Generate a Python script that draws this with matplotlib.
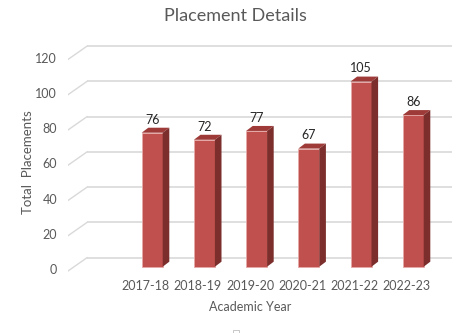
import matplotlib
matplotlib.use("Agg")
import matplotlib.pyplot as plt
from matplotlib.patches import Polygon, Rectangle

years = ["2017-18", "2018-19", "2019-20", "2020-21", "2021-22", "2022-23"]
placements = [76, 72, 77, 67, 105, 86]
yticks = [0, 20, 40, 60, 80, 100, 120]

W, H = 469, 333
fig = plt.figure(figsize=(W / 100, H / 100), dpi=100)
plt.rcParams['font.family'] = ['Lato', 'DejaVu Sans']

# pixel geometry -> axes
px_per_cat = 52.2
x0_px = 152.2            # center of first bar front face
px_per_unit = 1.763
y0_px = 266.7            # front-face zero (from top)
left_px, right_px = 68, 452
top_px, bot_px = 40, 275
ax = fig.add_axes([left_px / W, (H - bot_px) / H, (right_px - left_px) / W, (bot_px - top_px) / H])
ax.set_xlim((left_px - x0_px) / px_per_cat, (right_px - x0_px) / px_per_cat)
ax.set_ylim((y0_px - bot_px) / px_per_unit, (y0_px - top_px) / px_per_unit)
ax.axis('off')

back_off = 9 / px_per_unit          # back wall offset (value units)
front_off = -4.3 / px_per_unit      # floor front edge
xback = (87 - x0_px) / px_per_cat
xfront = (68 - x0_px) / px_per_cat
xright = (452 - x0_px) / px_per_cat
grid_c = '#d9d9d9'
for v in yticks:
    ax.plot([xback, xright], [v + back_off, v + back_off], color=grid_c, lw=1.2, solid_capstyle='butt', zorder=1)
    ax.plot([xfront, xback], [v + front_off, v + back_off], color=grid_c, lw=1.0, zorder=1)
    ax.text((57 - x0_px) / px_per_cat, v - 2.0, str(v), ha='right', va='center',
            fontsize=9, color='#595959', clip_on=False)

bw = 21 / px_per_cat
dx = 6.6 / px_per_cat
dy = 5.0 / px_per_unit
front_c, top_c, side_c = '#C0504D', '#9E3B38', '#7B2E2C'
xs = list(range(len(years)))
ax.bar(xs, placements, width=bw, color=front_c, edgecolor='#E6A9A7', linewidth=0.6, zorder=3)
for x, v in zip(xs, placements):
    l, r = x - bw / 2, x + bw / 2
    ax.add_patch(Polygon([(l, v), (r, v), (r + dx, v + dy), (l + dx, v + dy)], closed=True,
                         facecolor=top_c, edgecolor='none', zorder=4))
    ax.add_patch(Polygon([(r, 0), (r + dx, dy), (r + dx, v + dy), (r, v)], closed=True,
                         facecolor=side_c, edgecolor='none', zorder=4))
    ax.text(x, v + dy + 1.2, str(v), ha='center', va='bottom', fontsize=9, color='#262626', zorder=5)
    ax.text(x - 6.5 / px_per_cat, (y0_px - 286) / px_per_unit, years[x], ha='center', va='center',
            fontsize=9, color='#595959', clip_on=False)

fig.text(250 / W, 1 - 307 / H, 'Academic Year', ha='center', va='center', fontsize=9, color='#595959')
fig.text(28 / W, 1 - 162 / H, 'Total  Placements', ha='center', va='center', rotation=90,
         fontsize=9.5, color='#595959')
fig.text(235 / W, 1 - 16 / H, 'Placement Details', ha='center', va='center', fontsize=13, color='#595959')

# clipped legend marker at the bottom edge
fig.patches.append(Rectangle((233 / W, 0), 6 / W, 3 / H, transform=fig.transFigure,
                             facecolor='none', edgecolor='#bfbfbf', lw=0.6))

fig.savefig('out.png', dpi=100)
